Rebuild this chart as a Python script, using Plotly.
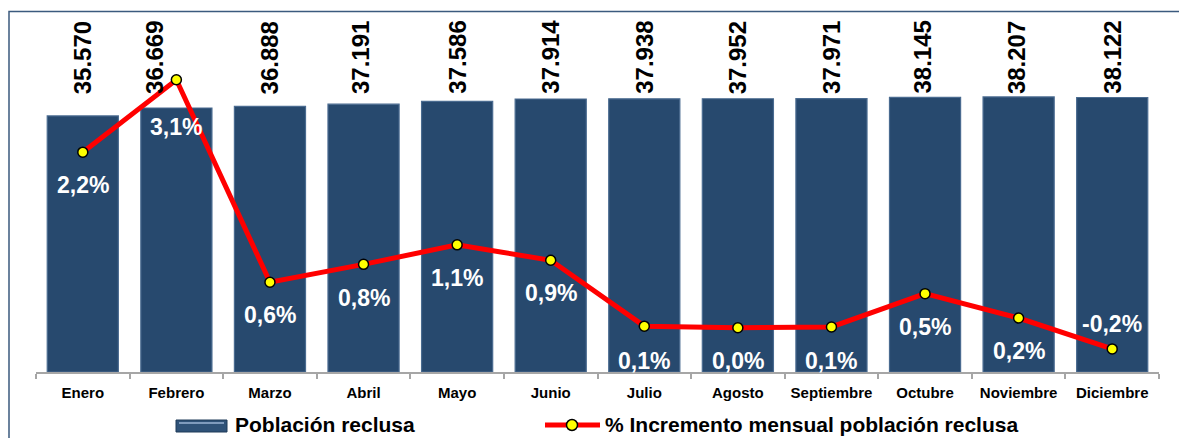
import plotly.graph_objects as go

meses = ["Enero", "Febrero", "Marzo", "Abril", "Mayo", "Junio", "Julio",
         "Agosto", "Septiembre", "Octubre", "Noviembre", "Diciembre"]
poblacion = [35570, 36669, 36888, 37191, 37586, 37914, 37938, 37952,
             37971, 38145, 38207, 38122]
incremento = [2.2, 3.09, 0.60, 0.82, 1.06, 0.87, 0.06, 0.04, 0.05, 0.46, 0.16, -0.22]

FONT = "Liberation Sans, Arial, sans-serif"
W, H = 1179, 438
L, R, T, B = 36, 20, 12, 66
PW, PH = W - L - R, H - T - B


def px(xp):
    return (xp - L) / PW


def py(yp):
    return (H - B - yp) / PH


fig = go.Figure()
fig.add_trace(go.Bar(
    x=meses, y=poblacion, name="Población reclusa",
    marker=dict(color="#27496e", line=dict(color="#4a6b90", width=1.2)),
    width=0.76, showlegend=False, hoverinfo="skip",
))
fig.add_trace(go.Scatter(
    x=meses, y=incremento, yaxis="y2", mode="lines+markers",
    name="% Incremento mensual población reclusa",
    line=dict(color="#ff0000", width=5),
    marker=dict(size=10, color="#ffff00", line=dict(color="#000000", width=1.5)),
    showlegend=False, hoverinfo="skip",
))

annotations = []
# bar value labels (rotated)
xshifts = [0, -22, 0, -3, 0, 0, 0, 0, 0, -3, -2, 0]
for m, v, xs in zip(meses, poblacion, xshifts):
    annotations.append(dict(
        x=m, xref="x", y=py(96), yref="paper", yanchor="bottom", xanchor="center",
        xshift=xs,
        text=f"{v:,}".replace(",", "."), textangle=-90, showarrow=False,
        font=dict(family=FONT, size=24, color="#000000", weight="bold"),
    ))
# percentage labels
shifts = [-33, -47, -33, -34, -33, -33, -35, -33, -34, -33, -33, 25]
for m, v, s in zip(meses, incremento, shifts):
    annotations.append(dict(
        x=m, xref="x", y=v, yref="y2", yanchor="middle", xanchor="center",
        yshift=s, text=f"{v:.1f}%".replace(".", ","), showarrow=False,
        font=dict(family=FONT, size=23, color="#ffffff", weight="bold"),
    ))
# manual legend texts
annotations.append(dict(
    x=px(233), y=py(424), xref="paper", yref="paper", xanchor="left", yanchor="middle",
    text="Población reclusa", showarrow=False,
    font=dict(family=FONT, size=21, color="#000000", weight="bold"),
))
annotations.append(dict(
    x=px(603), y=py(424), xref="paper", yref="paper", xanchor="left", yanchor="middle",
    text="% Incremento mensual población reclusa", showarrow=False,
    font=dict(family=FONT, size=21, color="#000000", weight="bold"),
))

shapes = [
    # outer frame (cropped on right and bottom)
    dict(type="rect", xref="paper", yref="paper", x0=px(9), x1=px(1190), y0=py(450), y1=py(11.5),
         line=dict(color="#3b5a7e", width=1.5), fillcolor="rgba(0,0,0,0)", layer="below"),
    # legend bar symbol
    dict(type="rect", xref="paper", yref="paper", x0=px(176), x1=px(227), y0=py(432), y1=py(420),
         line=dict(color="#1f3b59", width=1), fillcolor="#2f5278"),
    dict(type="line", xref="paper", yref="paper", x0=px(179), x1=px(224), y0=py(423), y1=py(423),
         line=dict(color="#7f9bbd", width=2)),
    # legend line symbol
    dict(type="line", xref="paper", yref="paper", x0=px(545), x1=px(600), y0=py(425), y1=py(425),
         line=dict(color="#ff0000", width=5)),
    dict(type="circle", xref="paper", yref="paper", x0=px(566.5), x1=px(577.5), y0=py(430.5), y1=py(419.5),
         line=dict(color="#000000", width=1.5), fillcolor="#ffff00"),
]

fig.update_layout(
    width=W, height=H,
    margin=dict(l=L, r=R, t=T, b=B, autoexpand=False),
    paper_bgcolor="#ffffff", plot_bgcolor="#ffffff",
    bargap=0.24,
    annotations=annotations, shapes=shapes,
    xaxis=dict(
        type="category", showgrid=False, zeroline=False,
        showline=True, linecolor="#a6a6a6", linewidth=1.5,
        ticks="outside", tickson="boundaries", ticklen=5, tickcolor="#a6a6a6", tickwidth=1.5,
        tickfont=dict(family=FONT, size=15, color="#000000", weight="bold"),
        tickangle=0, automargin=False, ticklabelstandoff=6,
        range=[-0.5, 11.5],
    ),
    yaxis=dict(range=[0, 50000], visible=False, showgrid=False, zeroline=False),
    yaxis2=dict(range=[-0.504, 3.924], overlaying="y", side="right", visible=False,
                showgrid=False, zeroline=False),
    showlegend=False,
)

fig.write_html(
    "out.html",
    config={"displayModeBar": False},
    post_script="document.body.style.margin='0px';document.body.style.overflow='hidden';",
)
